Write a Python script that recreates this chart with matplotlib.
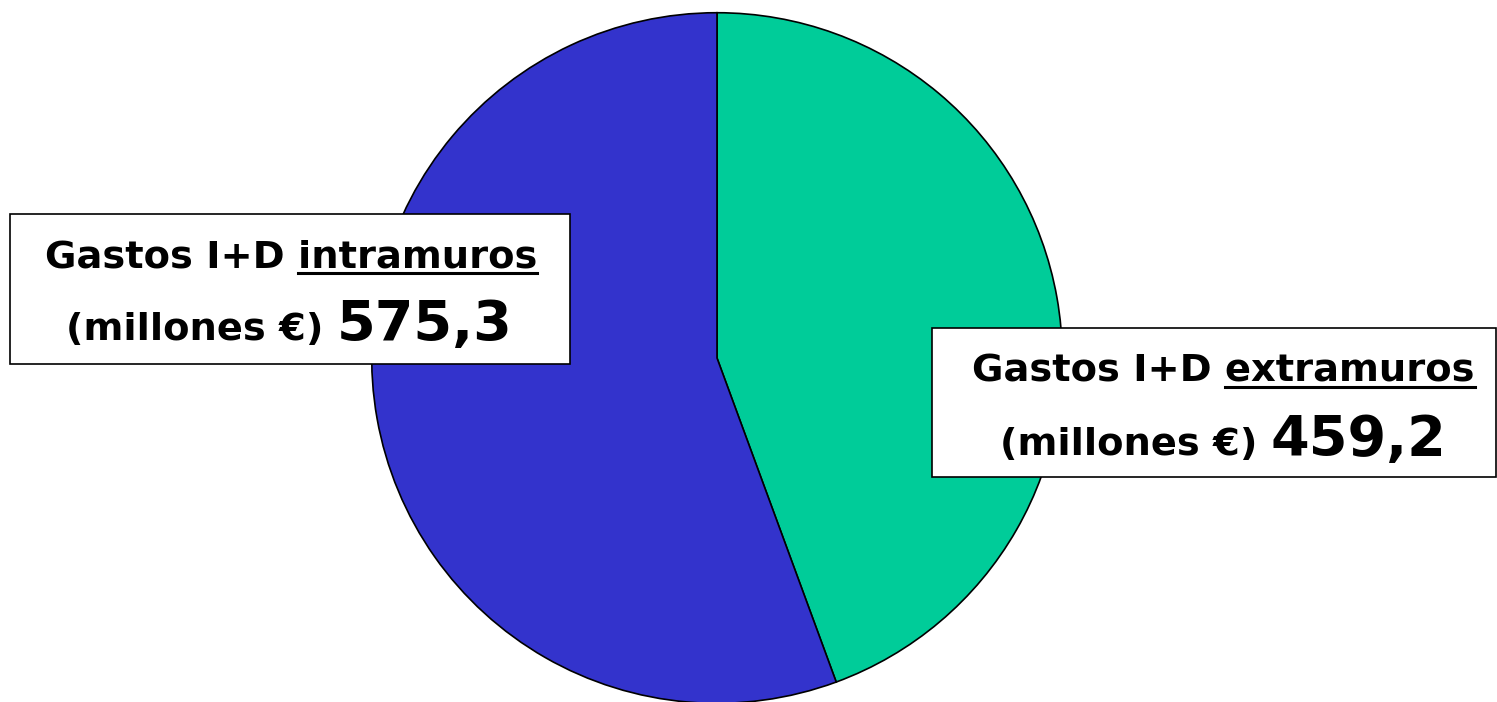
import matplotlib
matplotlib.use("Agg")
import matplotlib.pyplot as plt
from matplotlib.patches import Rectangle
from matplotlib import font_manager

# data
labels = ["extramuros", "intramuros"]
values = [459.2, 575.3]
colors = ["#00CC99", "#3333CC"]
value_txt = ["459,2", "575,3"]

W, H = 1497, 702
fig = plt.figure(figsize=(W / 100, H / 100), dpi=100)

# pie: centre (717, 358) px, radius 347 px
cx, cy, r = 717, 358, 347
ax = fig.add_axes([(cx - r) / W, (H - cy - r) / H, 2 * r / W, 2 * r / H])
ax.pie(values, colors=colors, startangle=90, counterclock=False,
       wedgeprops=dict(edgecolor="black", linewidth=1.2))
ax.set_xlim(-1.005, 1.005)
ax.set_ylim(-1.005, 1.005)
ax.axis("off")

names = {f.name for f in font_manager.fontManager.ttflist}
fam = "DejaVu Sans Condensed" if "DejaVu Sans Condensed" in names else "DejaVu Sans"
print(fam)
canvas = fig.canvas
rend = canvas.get_renderer()


def fx(x):
    return x / W


def fy(y):
    return 1 - y / H


def width_of(s, size):
    t = fig.text(0, 0, s, fontsize=size, fontweight="bold", family=fam)
    w = t.get_window_extent(rend).width
    t.remove()
    return w


def label_box(x0, y0, x1, y1, word, val, l1_left, l1_right, base1, l2_left, base2):
    fig.patches.append(Rectangle((fx(x0), fy(y1)), (x1 - x0) / W, (y1 - y0) / H,
                                 transform=fig.transFigure, facecolor="white",
                                 edgecolor="black", linewidth=1.2, zorder=5))
    pre = "Gastos I+D "
    line1 = pre + word
    # fit font size to measured width
    s1 = 25 * (l1_right - l1_left) / width_of(line1, 25)
    fig.text(fx(l1_left), fy(base1), line1, fontsize=s1, fontweight="bold",
             family=fam, va="baseline", ha="left", zorder=6)
    wpre = width_of(pre, s1)
    wword = width_of(word, s1)
    ul = base1 + 5
    fig.lines.append(plt.Line2D([fx(l1_left + wpre), fx(l1_left + wpre + wword)],
                                [fy(ul), fy(ul)], transform=fig.transFigure,
                                color="black", linewidth=2.2, zorder=6))
    small = "(millones €) "
    fig.text(fx(l2_left), fy(base2), small, fontsize=s1, fontweight="bold",
             family=fam, va="baseline", ha="left", zorder=6)
    ws = width_of(small, s1)
    fig.text(fx(l2_left + ws), fy(base2), val, fontsize=s1 * 1.45, fontweight="bold",
             family=fam, va="baseline", ha="left", zorder=6)


label_box(10, 214, 570, 364, labels[1], value_txt[1], 45, 537, 268, 66, 340)
label_box(932, 328, 1496, 477, labels[0], value_txt[0], 972, 1475, 382, 1000, 455)

fig.savefig("out.png", dpi=100)
